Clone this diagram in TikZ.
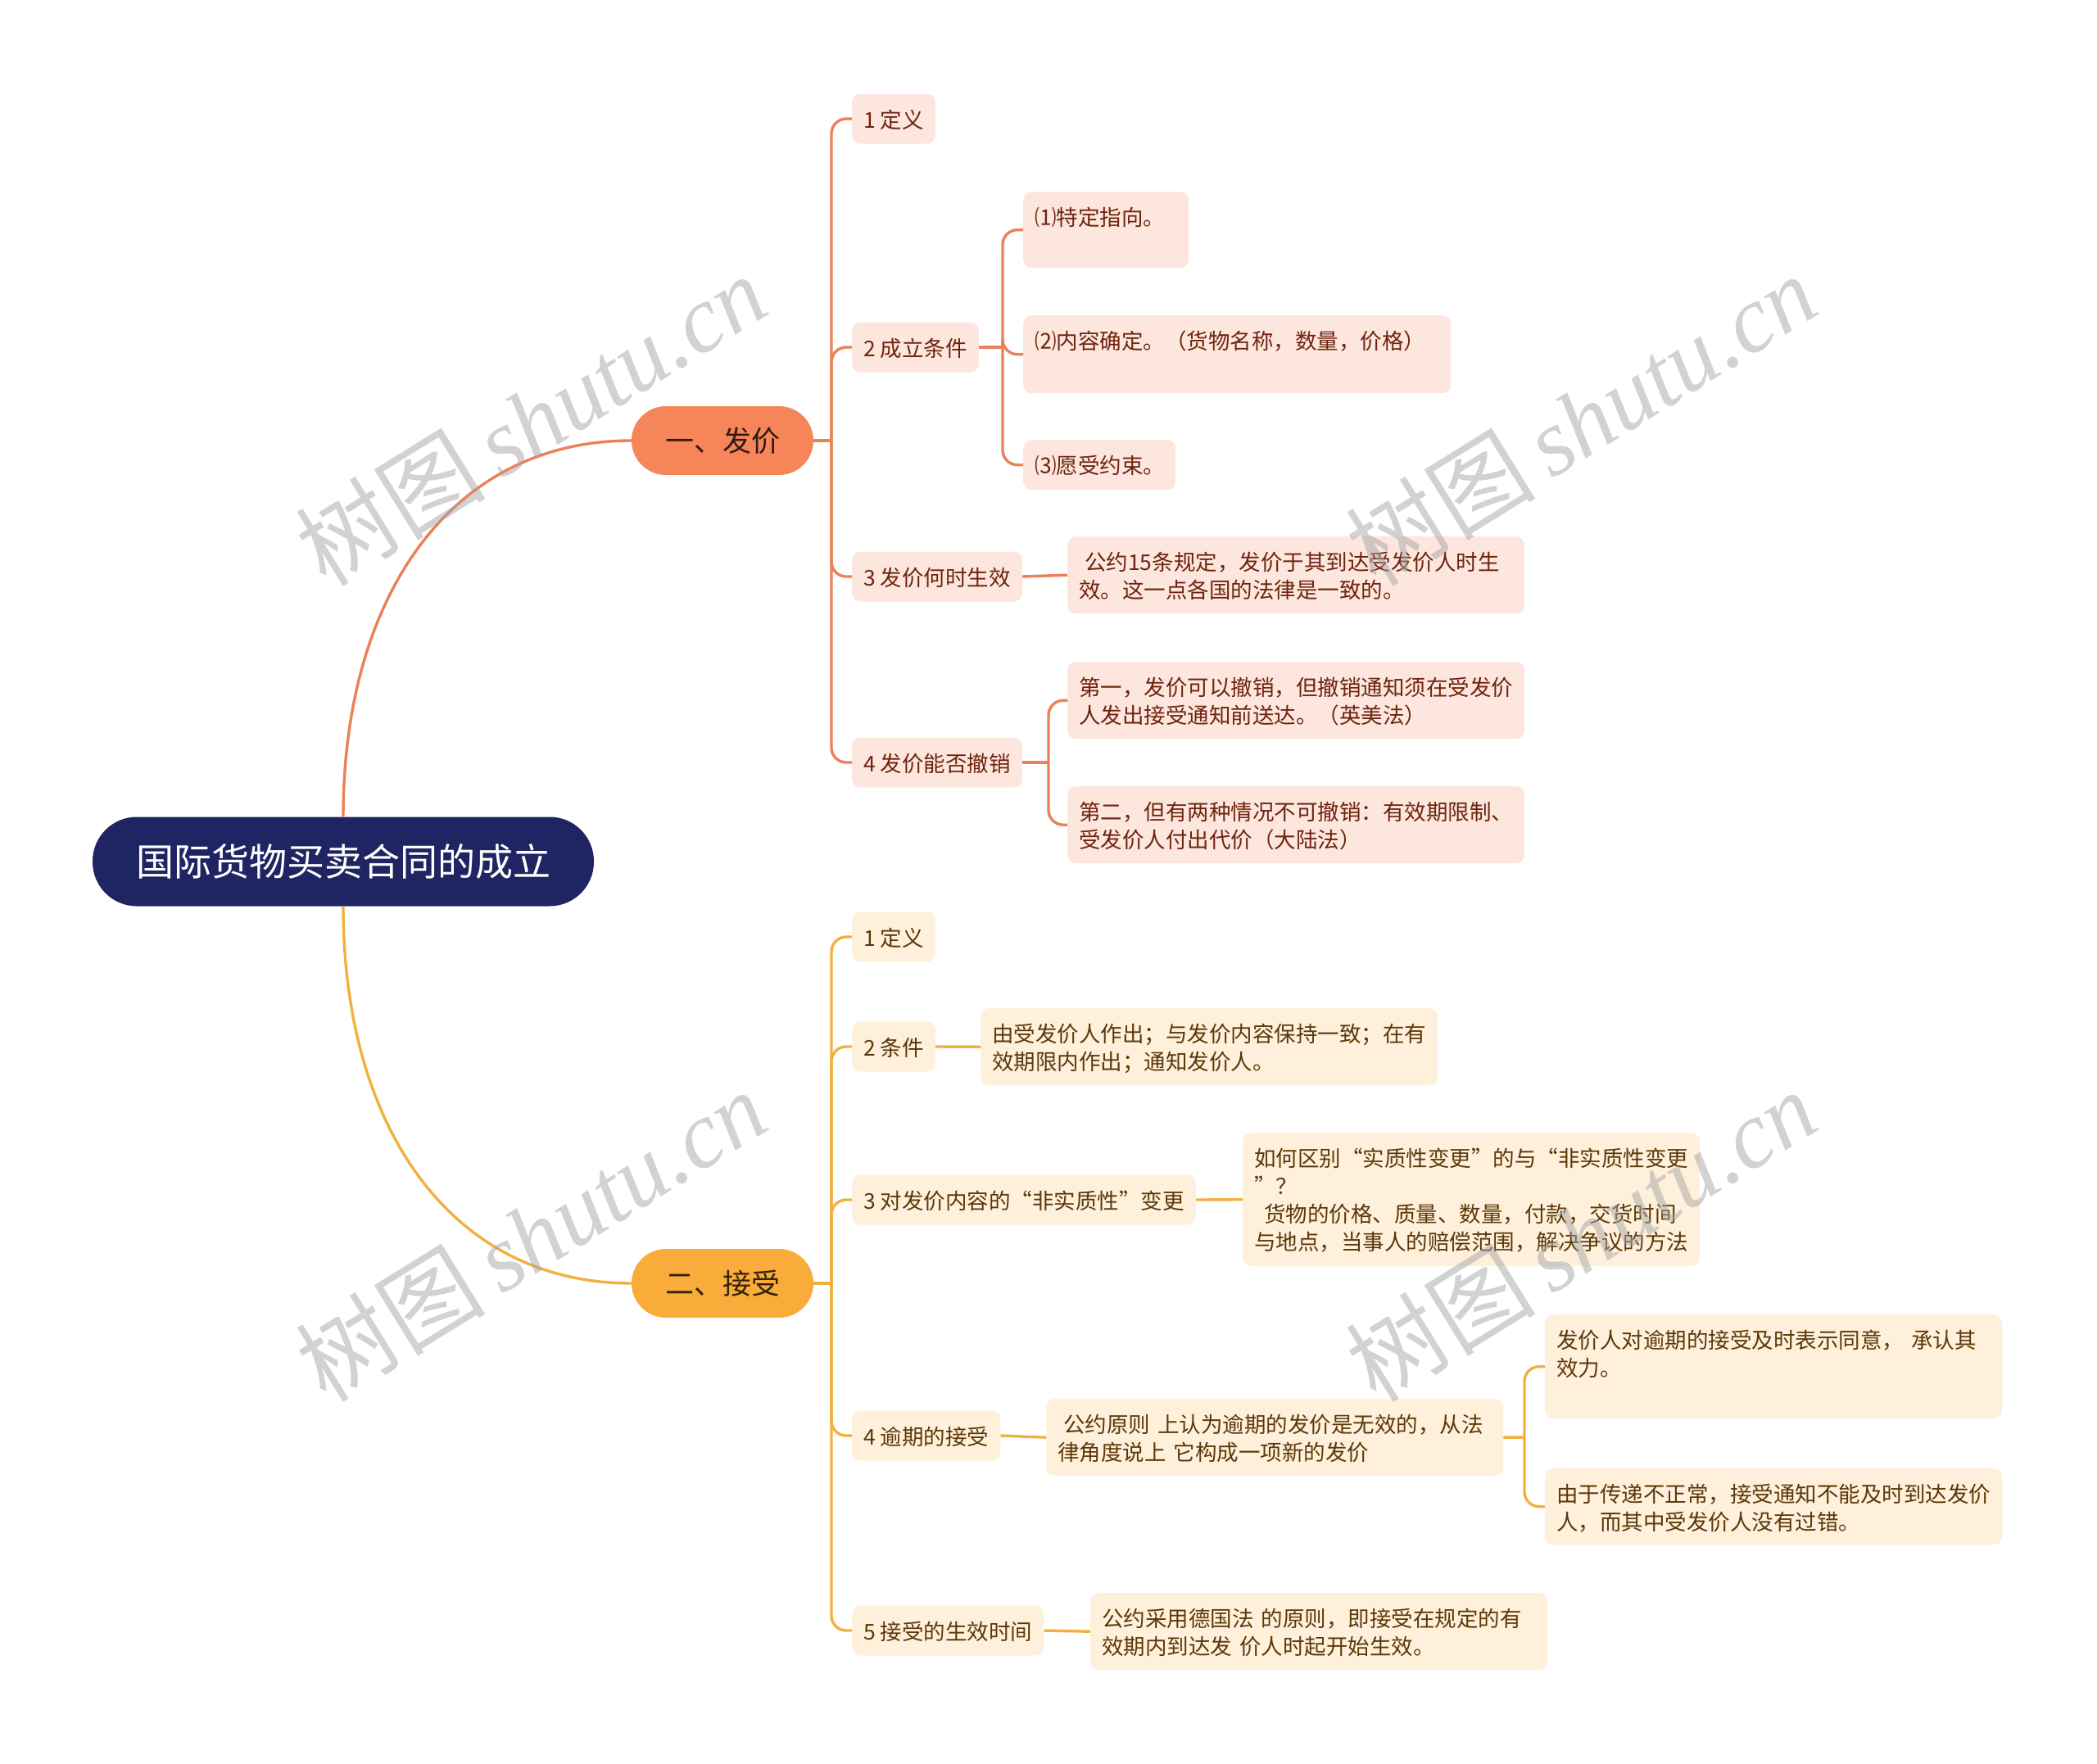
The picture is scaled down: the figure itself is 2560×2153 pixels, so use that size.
\documentclass[tikz,border=0pt]{standalone}
\usepackage{fontspec}
\setmainfont{Noto Sans CJK SC}
\newfontfamily\wmserif{Liberation Serif}
\usepackage{xcolor}
\usepackage{tikz}
\usetikzlibrary{calc}
\definecolor{rootblue}{RGB}{31,37,98}
\definecolor{offer}{RGB}{246,133,90}
\definecolor{offerline}{RGB}{236,128,88}
\definecolor{offerbox}{RGB}{253,230,221}
\definecolor{offertext}{RGB}{110,36,14}
\definecolor{accept}{RGB}{250,172,58}
\definecolor{acceptline}{RGB}{242,176,64}
\definecolor{acceptbox}{RGB}{254,240,218}
\definecolor{accepttext}{RGB}{92,56,10}
\definecolor{wmgray}{RGB}{165,165,165}

\begin{document}
\begin{tikzpicture}[x=1pt,y=-1pt,
  rootnode/.style={fill=rootblue,text=white,rounded corners=54pt,minimum width=612pt,minimum height=109pt,font=\fontsize{46}{50}\selectfont},
  topic/.style={fill=#1,text=black!80!#1,rounded corners=42pt,minimum width=222pt,minimum height=84pt,font=\fontsize{35}{40}\selectfont},
  sub/.style={fill=#1box,text=#1text,anchor=west,rounded corners=10pt,inner xsep=14pt,inner ysep=10pt,text height=31.5pt,text depth=9.5pt,font=\fontsize{26.5}{34}\selectfont},
  leaf/.style={fill=#1box,text=#1text,anchor=north west,rounded corners=10pt,inner xsep=14pt,inner ysep=10pt,text height=31.5pt,align=left,font=\fontsize{26.5}{34}\selectfont},
  link/.style={draw=#1line,line width=3.4pt,rounded corners=18pt},
  wmark/.style={text=wmgray,opacity=0.5,rotate=31.8,font=\fontsize{116}{120}\selectfont}]
   \useasboundingbox (0,0) rectangle (2560,2153);
   \node[rootnode] (root) at (419,1052) {国际货物买卖合同的成立};
   \node[topic=offer] (offer) at (882,538) {一、发价};
   \node[topic=accept] (accept) at (882,1567) {二、接受};

   \node[sub=offer] (o1) at (1040,145) {1 定义};
   \node[sub=offer] (o2) at (1040,424) {2 成立条件};
   \node[sub=offer] (o3) at (1040,704) {3 发价何时生效};
   \node[sub=offer] (o4) at (1040,931) {4 发价能否撤销};
   \node[leaf=offer,text width=174pt,text depth=41.5pt] (o21) at (1249,234) {⑴特定指向。};
   \node[leaf=offer,text width=494pt,text depth=43.5pt] (o22) at (1249,385) {⑵内容确定。（货物名称，数量，价格）};
   \node[leaf=offer,text width=158pt,text depth=9.5pt] (o23) at (1249,537) {⑶愿受约束。};
   \node[leaf=offer,text width=530pt,text depth=42.5pt] (o3t) at (1303,655) {\hspace*{7pt}公约15条规定，发价于其到达受发价人时生\\效。这一点各国的法律是一致的。};
   \node[leaf=offer,text width=530pt,text depth=42.5pt] (o41) at (1303,808) {第一，发价可以撤销，但撤销通知须在受发价\\人发出接受通知前送达。（英美法）};
   \node[leaf=offer,text width=530pt,text depth=42.5pt] (o42) at (1303,960) {第二，但有两种情况不可撤销：有效期限制、\\受发价人付出代价（大陆法）};

   \node[sub=accept] (a1) at (1040,1144) {1 定义};
   \node[sub=accept] (a2) at (1040,1278) {2 条件};
   \node[sub=accept] (a3) at (1040,1465) {3 对发价内容的“非实质性”变更};
   \node[sub=accept] (a4) at (1040,1753) {4 逾期的接受};
   \node[sub=accept] (a5) at (1040,1991) {5 接受的生效时间};
   \node[leaf=accept,text width=530pt,text depth=42.5pt] (a2t) at (1197,1231) {由受发价人作出；与发价内容保持一致；在有\\效期限内作出；通知发价人。};
   \node[leaf=accept,text width=530pt,text depth=111.5pt] (a3t) at (1517,1383) {如何区别“实质性变更”的与“非实质性变更\\”？\\\hspace*{12pt}货物的价格、质量、数量，付款，交货时间\\与地点，当事人的赔偿范围，解决争议的方法};
   \node[leaf=accept,text width=530pt,text depth=42.5pt] (a4t) at (1277,1708) {\hspace*{7pt}公约原则~上认为逾期的发价是无效的，从法\\律角度说上~它构成一项新的发价};
   \node[leaf=accept,text width=530pt,text depth=75.5pt] (a41) at (1886,1605) {发价人对逾期的接受及时表示同意，~承认其\\效力。};
   \node[leaf=accept,text width=530pt,text depth=41.5pt] (a42) at (1886,1793) {由于传递不正常，接受通知不能及时到达发价\\人，而其中受发价人没有过错。};
   \node[leaf=accept,text width=530pt,text depth=42.5pt] (a5t) at (1331,1945) {公约采用德国法~的原则，即接受在规定的有\\效期内到达发~价人时起开始生效。};

   \draw[link=offer] (root.north) .. controls +(0,-270) and +(-220,0) .. (offer.west);
   \draw[link=accept] (root.south) .. controls +(0,270) and +(-220,0) .. (accept.west);

   \draw[link=offer] (offer.east) -- (1015,538);
   \draw[link=offer] (1015,538) |- (o1.west);
   \draw[link=offer] (1015,538) |- (o2.west);
   \draw[link=offer] (1015,538) |- (o3.west);
   \draw[link=offer] (1015,538) |- (o4.west);
   \draw[link=offer] (o2.east) -- (1224,424);
   \draw[link=offer] (1224,424) |- (o21.west);
   \draw[link=offer] (1224,424) |- (o22.west);
   \draw[link=offer] (1224,424) |- (o23.west);
   \draw[link=offer] (o3.east) -- (o3t.west);
   \draw[link=offer] (o4.east) -- (1280,931);
   \draw[link=offer] (1280,931) |- (o41.west);
   \draw[link=offer] (1280,931) |- (o42.west);

   \draw[link=accept] (accept.east) -- (1015,1567);
   \draw[link=accept] (1015,1567) |- (a1.west);
   \draw[link=accept] (1015,1567) |- (a2.west);
   \draw[link=accept] (1015,1567) |- (a3.west);
   \draw[link=accept] (1015,1567) |- (a4.west);
   \draw[link=accept] (1015,1567) |- (a5.west);
   \draw[link=accept] (a2.east) -- (a2t.west);
   \draw[link=accept] (a3.east) -- (a3t.west);
   \draw[link=accept] (a4.east) -- (a4t.west);
   \draw[link=accept] (a4t.east) -- (1861,1755);
   \draw[link=accept] (1861,1755) |- (a41.west);
   \draw[link=accept] (1861,1755) |- (a42.west);
   \draw[link=accept] (a5.east) -- (a5t.west);

   \node[wmark] (wm1) at (648,512) {树图\,{\wmserif\itshape shutu.cn}};
   \node[wmark] (wm2) at (1930,512) {树图\,{\wmserif\itshape shutu.cn}};
   \node[wmark] (wm3) at (648,1508) {树图\,{\wmserif\itshape shutu.cn}};
   \node[wmark] (wm4) at (1930,1508) {树图\,{\wmserif\itshape shutu.cn}};
  \end{tikzpicture}
\end{document}
